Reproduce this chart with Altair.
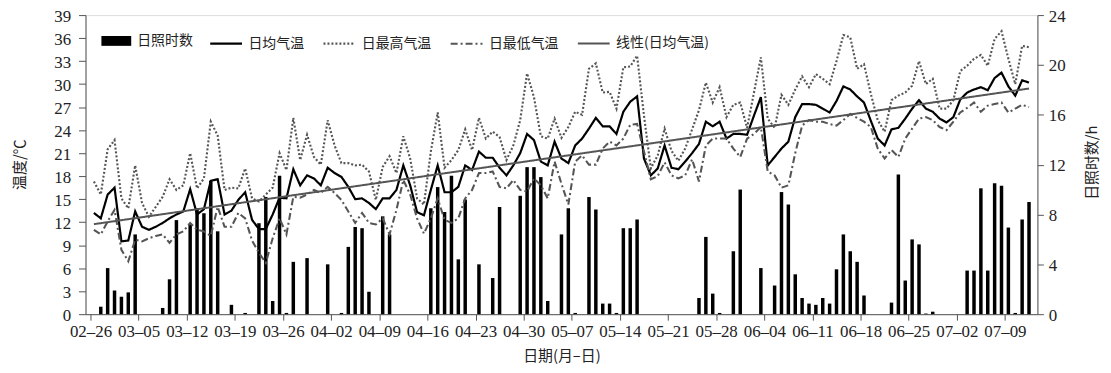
import json
import numpy as np
import altair as alt
import pandas as pd

# ---- data ----
tick_labels = ["02–26", "03–05", "03–12", "03–19", "03–26", "04–02", "04–09",
               "04–16", "04–23", "04–30", "05–07", "05–14", "05–21", "05–28",
               "06–04", "06–11", "06–18", "06–25", "07–02", "07–09"]

mean_t = [
    13.2, 12.5, 15.6, 16.5, 9.5, 9.6, 13.4, 11.4, 11.0, 11.4,
    11.9, 12.5, 13.0, 13.4, 16.3, 13.0, 13.7, 17.4, 17.6, 13.0,
    13.5, 14.9, 15.9, 12.3, 11.1, 11.1, 13.0, 15.2, 15.1, 18.9,
    16.8, 18.1, 17.7, 16.8, 19.1, 18.4, 17.9, 16.6, 15.0, 15.1,
    14.5, 13.7, 15.1, 15.1, 16.2, 19.4, 16.8, 13.3, 12.9, 16.2,
    19.4, 15.9, 15.9, 16.6, 19.4, 18.8, 21.2, 20.4, 20.4, 19.1,
    18.1, 19.4, 21.0, 23.5, 22.7, 19.9, 19.4, 22.5, 20.3, 19.7,
    22.0, 22.9, 24.2, 25.6, 24.5, 24.5, 23.5, 26.4, 27.7, 28.4,
    20.3, 18.1, 19.0, 22.0, 19.1, 18.9, 19.9, 21.0, 22.2, 25.1,
    24.5, 25.1, 22.9, 23.5, 23.5, 23.4, 25.9, 28.3, 19.4, 20.5,
    21.6, 22.5, 25.7, 27.4, 27.4, 27.3, 26.8, 26.3, 27.8, 29.7,
    29.3, 28.4, 27.6, 25.2, 22.9, 22.0, 24.1, 24.3, 25.5, 26.8,
    27.9, 26.8, 26.4, 25.5, 25.0, 25.7, 28.0, 28.9, 29.3, 29.6,
    29.2, 30.8, 31.5, 29.7, 28.5, 30.5, 30.2]

max_t = [
    17.3, 15.6, 21.5, 22.7, 15.1, 13.8, 19.4, 14.5, 12.7, 14.0,
    15.3, 17.6, 16.2, 16.8, 21.0, 16.4, 17.7, 25.1, 23.3, 16.2,
    16.5, 16.4, 19.0, 15.1, 14.7, 15.6, 16.5, 21.0, 18.8, 25.6,
    20.1, 23.4, 20.5, 19.5, 25.3, 22.0, 19.7, 19.7, 19.4, 19.5,
    18.6, 14.9, 19.2, 20.6, 18.4, 23.2, 20.3, 15.1, 14.3, 21.2,
    26.3, 19.1, 20.1, 21.4, 24.1, 21.4, 25.6, 22.9, 23.8, 23.1,
    20.1, 22.0, 25.3, 31.4, 28.3, 23.2, 22.9, 25.5, 23.0, 24.4,
    26.4, 26.0, 32.0, 32.7, 28.9, 29.0, 26.8, 32.2, 32.3, 33.7,
    25.9, 19.0, 20.7, 24.2, 21.3, 20.0, 21.6, 24.1, 26.6, 30.2,
    27.6, 29.6, 25.7, 27.3, 27.6, 24.3, 28.9, 33.5, 25.5, 24.3,
    28.6, 27.3, 29.3, 31.0, 29.6, 31.3, 30.7, 30.0, 33.0, 36.4,
    36.1, 32.0, 32.6, 28.7, 25.3, 23.8, 27.9, 28.5, 28.9, 29.8,
    33.0, 30.0, 30.7, 26.8, 26.8, 27.9, 31.7, 32.4, 33.3, 33.8,
    32.4, 35.9, 36.9, 33.3, 30.0, 35.0, 34.8]

min_t = [
    11.0, 10.4, 12.1, 13.6, 8.4, 6.9, 9.7, 9.5, 9.9, 10.2,
    10.4, 9.3, 10.4, 10.8, 11.9, 11.0, 10.8, 10.2, 14.0, 11.4,
    11.4, 13.2, 12.5, 9.6, 8.0, 6.7, 9.9, 12.5, 10.4, 15.3,
    15.2, 15.6, 16.2, 15.8, 16.6, 15.8, 14.9, 13.4, 11.9, 13.2,
    11.9, 11.7, 12.5, 10.4, 13.6, 17.5, 15.6, 12.5, 10.5, 12.5,
    15.1, 12.3, 11.9, 12.5, 15.1, 16.2, 18.4, 18.4, 18.6, 16.6,
    16.4, 17.5, 16.2, 16.0, 17.7, 16.8, 15.1, 19.9, 17.0, 14.3,
    19.9, 20.7, 19.5, 19.5, 21.6, 22.5, 22.0, 22.9, 24.7, 24.8,
    21.2, 17.6, 18.0, 19.8, 18.1, 17.7, 18.1, 20.2, 17.3, 22.0,
    22.9, 22.9, 22.9, 21.6, 20.5, 22.9, 23.5, 24.4, 18.6, 18.1,
    16.5, 16.8, 21.0, 24.6, 25.3, 25.1, 25.1, 24.8, 24.6, 25.3,
    26.1, 25.6, 25.1, 24.4, 21.6, 20.3, 21.4, 20.5, 22.9, 24.2,
    25.5, 25.7, 25.3, 24.4, 24.0, 25.1, 26.3, 26.9, 27.6, 26.4,
    27.2, 27.4, 27.6, 26.3, 26.8, 27.3, 27.0]

sun_h = [
    0, 0.6, 3.7, 1.9, 1.4, 1.75, 6.4, 0, 0, 0,
    0.5, 2.8, 7.55, 0, 7.2, 8.5, 8.1, 10.7, 6.65, 0,
    0.75, 0, 0.1, 0, 7.3, 9.4, 1.06, 11.1, 0.1, 4.2,
    0, 4.5, 0, 0, 4.0, 0, 0.1, 5.4, 7.0, 6.9,
    1.8, 0, 7.85, 6.4, 0, 0, 0, 0, 0, 8.5,
    10.2, 8.2, 11.1, 4.4, 9.2, 0, 4.0, 0, 2.9, 8.6,
    0, 0, 9.5, 11.8, 11.8, 11.0, 1.06, 0, 6.4, 8.5,
    0.1, 0, 9.4, 8.4, 0.85, 0.85, 0.1, 6.9, 6.9, 7.6,
    0, 0, 0, 0, 0, 0, 0, 0, 1.3, 6.2,
    1.65, 0.1, 0, 5.05, 10.0, 0, 0, 3.7, 0, 2.3,
    9.8, 8.8, 3.2, 1.3, 0.85, 0.75, 1.3, 0.85, 3.6, 6.4,
    5.05, 4.2, 1.5, 0, 0, 0, 0.93, 11.2, 2.7, 6.0,
    5.6, 0.05, 0.2, 0, 0, 0, 0, 3.5, 3.5, 10.1,
    3.5, 10.5, 10.3, 6.95, 0.1, 7.6, 9.0]

series_names = ["日均气温", "日最高气温", "日最低气温", "线性(日均气温)"]
bar_name = "日照时数"

n = len(mean_t)
days = list(range(n))
df = pd.DataFrame({"day": days, "日均气温": mean_t, "日最高气温": max_t,
                   "日最低气温": min_t, "sun": sun_h})
df_long = df.melt(id_vars=["day"], value_vars=series_names[:3],
                  var_name="series", value_name="temp")

# linear trend of the daily mean temperature (least squares)
slope, intercept = np.polyfit(days, mean_t, 1)
trend_df = pd.DataFrame({"day": [0, n - 1],
                         "temp": [intercept, intercept + slope * (n - 1)],
                         "series": [series_names[3]] * 2})

# ---- styling ----
SERIF = "Liberation Serif"
CJK = "Noto Sans CJK SC"
AX = "#555555"

label_expr = json.dumps(tick_labels, ensure_ascii=False) + "[round(datum.value / 7)]"

x_enc = alt.X(
    "pos:Q",
    scale=alt.Scale(domain=[0, n], nice=False, zero=False),
    axis=alt.Axis(values=list(range(0, 7 * len(tick_labels), 7)), labelExpr=label_expr,
                  title="日期(月–日)", titleFont=CJK, titleFontSize=15,
                  titleFontWeight="normal", titleColor="#222",
                  titleX=479, titleY=35, titleAlign="center", titleBaseline="top",
                  labelFont=SERIF, labelFontSize=17, labelColor="#222",
                  labelPadding=3, tickSize=6, domainColor=AX, tickColor=AX,
                  grid=False, labelFlush=False, labelOverlap=False),
)

stroke_sc = alt.Scale(domain=series_names, range=["#000000", "#555555", "#555555", "#555555"])
dash_sc = alt.Scale(domain=series_names, range=[[1, 0], [2, 2], [7, 3, 2, 3], [1, 0]])
width_sc = alt.Scale(domain=series_names, range=[2.2, 2.0, 1.8, 1.2])

line_legend = alt.Legend(title=None, orient="none", legendX=124, legendY=11,
                         direction="horizontal", columns=4, symbolType="stroke",
                         symbolSize=1024, labelOffset=5, columnPadding=15,
                         labelFont=CJK, labelFontSize=14, labelColor="#222",
                         padding=0, labelLimit=300)

y_left = alt.Y("temp:Q", scale=alt.Scale(domain=[0, 39], nice=False),
               axis=alt.Axis(values=list(range(0, 40, 3)), title="温度/℃",
                             titleFont=CJK, titleFontSize=15, titleFontWeight="normal",
                             titleColor="#222", titleAngle=270, titleX=-66, titleY=150,
                             titleAlign="center", titleBaseline="middle",
                             labelFont=SERIF, labelFontSize=17, labelColor="#222",
                             labelPadding=8, labelOffset=1, tickSize=7,
                             domainColor=AX, tickColor=AX, grid=False))

lines = alt.Chart(df_long).transform_calculate(pos="datum.day + 0.5").mark_line().encode(
    x=x_enc,
    y=y_left,
    stroke=alt.Stroke("series:N", scale=stroke_sc, legend=line_legend),
    strokeDash=alt.StrokeDash("series:N", scale=dash_sc, legend=line_legend),
    strokeWidth=alt.StrokeWidth("series:N", scale=width_sc, legend=line_legend),
)

trend = alt.Chart(trend_df).transform_calculate(pos="datum.day + 0.5").mark_line().encode(
    x=x_enc,
    y=y_left,
    stroke=alt.Stroke("series:N", scale=stroke_sc, legend=line_legend),
    strokeDash=alt.StrokeDash("series:N", scale=dash_sc, legend=line_legend),
    strokeWidth=alt.StrokeWidth("series:N", scale=width_sc, legend=line_legend),
)

bars = alt.Chart(df).transform_calculate(
    pos="datum.day + 0.5", sname="'日照时数'"
).mark_bar(size=3.5).encode(
    x=x_enc,
    y=alt.Y("sun:Q", scale=alt.Scale(domain=[0, 24], nice=False),
            axis=alt.Axis(orient="right", values=list(range(0, 25, 4)), title="日照时数/h",
                          titleFont=CJK, titleFontSize=15, titleFontWeight="normal",
                          titleColor="#222", titleAngle=270, titleX=54, titleY=148,
                          titleAlign="center", titleBaseline="middle",
                          labelFont=SERIF, labelFontSize=17, labelColor="#222",
                          labelPadding=5, labelOffset=1, tickSize=6,
                          domainColor=AX, tickColor=AX, grid=False)),
    fill=alt.Fill("sname:N", scale=alt.Scale(domain=[bar_name], range=["#000000"]),
                  legend=alt.Legend(title=None, orient="none", legendX=16, legendY=11,
                                    symbolType="M-1,-0.33L1,-0.33L1,0.33L-1,0.33Z",
                                    symbolSize=900, symbolStrokeWidth=0, labelOffset=6,
                                    labelFont=CJK, labelFontSize=14, labelColor="#222",
                                    padding=0)),
)

chart = alt.layer(bars, alt.layer(lines, trend)).resolve_scale(
    y="independent"
).properties(
    width=958, height=301,
    padding={"left": 78, "top": 6, "right": 66, "bottom": 50},
    autosize=alt.AutoSizeParams(type="none"),
).configure_view(stroke=None).configure(background="white")

chart.save("out.html", embed_options={"renderer": "svg", "actions": False})
